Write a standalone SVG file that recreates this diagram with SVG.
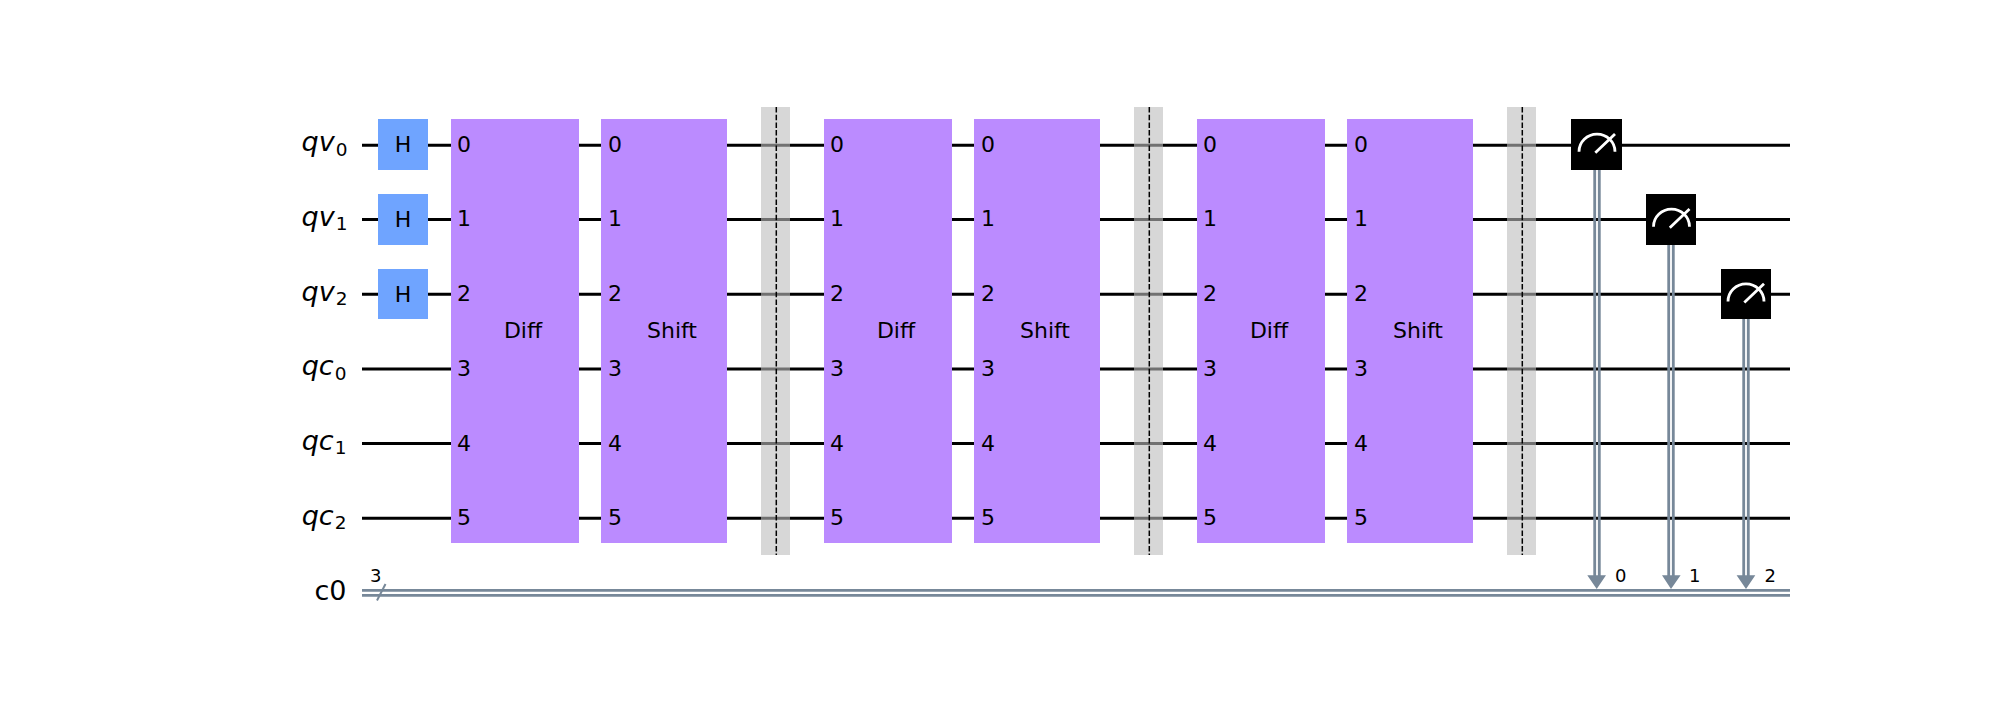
<svg xmlns="http://www.w3.org/2000/svg" width="2000" height="716" viewBox="0 0 2000 716">
<style>
text{font-family:"DejaVu Sans",sans-serif;fill:#000}
.wire{stroke:#000;stroke-width:3;fill:none}
.creg{stroke:#778899;stroke-width:2.8;fill:none}
.thin{stroke:#778899;stroke-width:2;fill:none}
.h{fill:#6fa4ff}
.box{fill:#bb8bff}
.bar{fill:#bdbdbd;fill-opacity:.6}
.dash{stroke:#000;stroke-width:1.5;stroke-dasharray:5.5 2.2;fill:none}
.meter{fill:#000}
.dial{stroke:#fff;stroke-width:2.8;fill:none}
.arrow{fill:#778899}
.reg{font-size:27px;text-anchor:end}
.reg .v{font-style:italic}
.reg .s{font-size:18.5px}
.g{font-size:22px;text-anchor:middle}
.p{font-size:22px}
.n{font-size:18px}
</style>
<rect width="2000" height="716" fill="#fff"/>
<g id="connectors">
<path class="wire" d="M362 145.200H1790M362 219.500H1790M362 294.300H1790M362 369H1790M362 443.400H1790M362 518.300H1790"/>
<path class="creg" d="M362 590.300H1790M362 595.300H1790"/>
<path class="thin" d="M377 600.500L385.500 584"/>
<path class="creg" d="M1594.700 170V578M1599.300 170V578M1668.700 245V578M1673.300 245V578M1743.700 319V578M1748.300 319V578"/>
<path class="arrow" d="M1587.300 575.300H1606L1596.700 589zM1662 575.300H1680.600L1671 589zM1736.600 575.300H1755.300L1746 589z"/>
</g>
<g id="label-qv0"><text class="reg" x="347.500" y="151.200"><tspan class="v">qv</tspan><tspan class="s" dx="1" dy="4.500">0</tspan></text></g>
<g id="label-qv1"><text class="reg" x="347.500" y="225.700"><tspan class="v">qv</tspan><tspan class="s" dx="1" dy="4.500">1</tspan></text></g>
<g id="label-qv2"><text class="reg" x="347.500" y="300.500"><tspan class="v">qv</tspan><tspan class="s" dx="1" dy="4.500">2</tspan></text></g>
<g id="label-qc0"><text class="reg" x="346.500" y="375.200"><tspan class="v">qc</tspan><tspan class="s" dx="1" dy="4.500">0</tspan></text></g>
<g id="label-qc1"><text class="reg" x="346.500" y="449.600"><tspan class="v">qc</tspan><tspan class="s" dx="1" dy="4.500">1</tspan></text></g>
<g id="label-qc2"><text class="reg" x="346.500" y="524.500"><tspan class="v">qc</tspan><tspan class="s" dx="1" dy="4.500">2</tspan></text></g>
<g id="label-c0"><text class="reg" x="346.500" y="600">c0</text></g>
<g id="label-c0-size"><text class="n" x="370" y="582">3</text></g>
<g id="h0"><rect class="h" x="378" y="119" width="50" height="51"/><text class="g" x="403" y="152">H</text></g>
<g id="h1"><rect class="h" x="378" y="194" width="50" height="51"/><text class="g" x="403" y="226.500">H</text></g>
<g id="h2"><rect class="h" x="378" y="269" width="50" height="50"/><text class="g" x="403" y="301.500">H</text></g>
<g id="diff1"><rect class="box" x="451" y="119" width="128" height="424"/><text class="g" x="523" y="338">Diff</text>
<text class="p" x="457" y="152">0</text><text class="p" x="457" y="226.300">1</text><text class="p" x="457" y="301.300">2</text><text class="p" x="457" y="376">3</text><text class="p" x="457" y="450.600">4</text><text class="p" x="457" y="525.300">5</text></g>
<g id="shift1"><rect class="box" x="601" y="119" width="126" height="424"/><text class="g" x="672" y="338">Shift</text>
<text class="p" x="608" y="152">0</text><text class="p" x="608" y="226.300">1</text><text class="p" x="608" y="301.300">2</text><text class="p" x="608" y="376">3</text><text class="p" x="608" y="450.600">4</text><text class="p" x="608" y="525.300">5</text></g>
<g id="barrier1"><rect class="bar" x="761" y="107" width="29" height="448"/><path class="dash" d="M776.300 107V555"/></g>
<g id="diff2"><rect class="box" x="824" y="119" width="128" height="424"/><text class="g" x="896" y="338">Diff</text>
<text class="p" x="830" y="152">0</text><text class="p" x="830" y="226.300">1</text><text class="p" x="830" y="301.300">2</text><text class="p" x="830" y="376">3</text><text class="p" x="830" y="450.600">4</text><text class="p" x="830" y="525.300">5</text></g>
<g id="shift2"><rect class="box" x="974" y="119" width="126" height="424"/><text class="g" x="1045" y="338">Shift</text>
<text class="p" x="981" y="152">0</text><text class="p" x="981" y="226.300">1</text><text class="p" x="981" y="301.300">2</text><text class="p" x="981" y="376">3</text><text class="p" x="981" y="450.600">4</text><text class="p" x="981" y="525.300">5</text></g>
<g id="barrier2"><rect class="bar" x="1134" y="107" width="29" height="448"/><path class="dash" d="M1149.300 107V555"/></g>
<g id="diff3"><rect class="box" x="1197" y="119" width="128" height="424"/><text class="g" x="1269" y="338">Diff</text>
<text class="p" x="1203" y="152">0</text><text class="p" x="1203" y="226.300">1</text><text class="p" x="1203" y="301.300">2</text><text class="p" x="1203" y="376">3</text><text class="p" x="1203" y="450.600">4</text><text class="p" x="1203" y="525.300">5</text></g>
<g id="shift3"><rect class="box" x="1347" y="119" width="126" height="424"/><text class="g" x="1418" y="338">Shift</text>
<text class="p" x="1354" y="152">0</text><text class="p" x="1354" y="226.300">1</text><text class="p" x="1354" y="301.300">2</text><text class="p" x="1354" y="376">3</text><text class="p" x="1354" y="450.600">4</text><text class="p" x="1354" y="525.300">5</text></g>
<g id="barrier3"><rect class="bar" x="1507" y="107" width="29" height="448"/><path class="dash" d="M1522.300 107V555"/></g>
<g id="measure0"><rect class="meter" x="1571" y="119" width="51" height="51"/><path class="dial" d="M1579 151.700A18 17.500 0 0 1 1615 151.700M1595.300 152.700L1615 134"/></g>
<g id="measure1"><rect class="meter" x="1646" y="194" width="50" height="51"/><path class="dial" d="M1653.500 226.700A18 17.500 0 0 1 1689.500 226.700M1669.800 227.700L1689.500 209"/></g>
<g id="measure2"><rect class="meter" x="1721" y="269" width="50" height="50"/><path class="dial" d="M1728 301.400A18 17.500 0 0 1 1764 301.400M1744.300 302.400L1764 283.700"/></g>
<g id="c0-bit0"><text class="n" x="1615" y="582">0</text></g>
<g id="c0-bit1"><text class="n" x="1689" y="582">1</text></g>
<g id="c0-bit2"><text class="n" x="1764.500" y="582">2</text></g>
</svg>
